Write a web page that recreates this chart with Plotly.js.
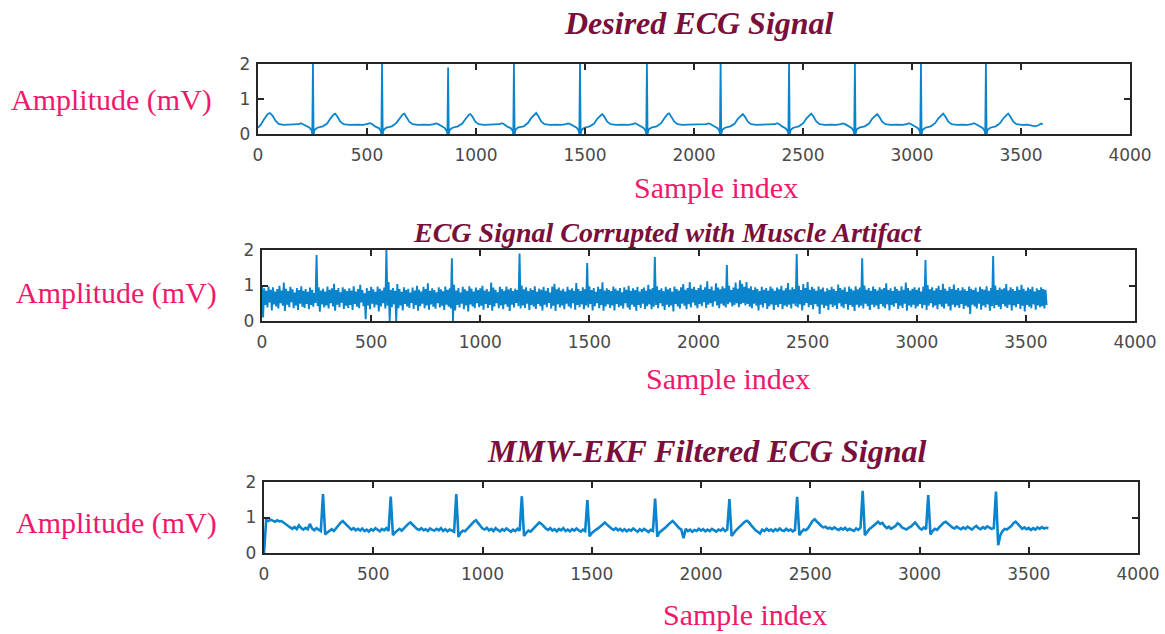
<!DOCTYPE html>
<html>
<head>
<meta charset="utf-8">
<script src="https://cdn.plot.ly/plotly-3.0.1.min.js"></script>
<style>html,body{margin:0;padding:0;background:#fff;}#chart{width:1165px;height:634px;}</style>
</head>
<body>
<div id="chart"></div>
<script>
// ---------- DATA ----------
const titles = ["Desired ECG Signal", "ECG Signal Corrupted with Muscle Artifact", "MMW-EKF Filtered ECG Signal"];
const xTitle = "Sample index";
const yTitle = "Amplitude (mV)";
const xTickVals = [0, 500, 1000, 1500, 2000, 2500, 3000, 3500, 4000];
const yTickVals = [0, 1, 2];

// Panel 1: desired (clean) ECG — sample index / amplitude (mV) key points
const cleanX = [0,12,28,45,55,67,80,95,115,142,167,187,197,207,222,237,246,249,252,255,260,272,297,317,332,347,354,364,377,392,417,442,
459,484,504,514,524,539,554,563,566,569,572,577,589,614,634,649,664,671,681,694,709,734,759,
787,807,817,827,842,857,866,869,872,875,880,892,917,937,952,967,974,984,997,1012,1037,1062,
1089,1109,1119,1129,1144,1159,1168,1171,1174,1177,1182,1194,1219,1239,1254,1269,1276,1286,1299,1314,1339,1364,
1392,1412,1422,1432,1447,1462,1471,1474,1477,1480,1485,1497,1522,1542,1557,1572,1579,1589,1602,1617,1642,1667,
1699,1719,1729,1739,1754,1769,1778,1781,1784,1787,1792,1804,1829,1849,1864,1879,1886,1896,1909,1924,1949,1974,
2012,2037,2057,2067,2077,2092,2107,2116,2119,2122,2125,2130,2142,2167,2187,2202,2217,2224,2234,2247,2262,2287,2312,
2326,2351,2371,2381,2391,2406,2421,2430,2433,2436,2439,2444,2456,2481,2501,2516,2531,2538,2548,2561,2576,2601,2626,
2653,2673,2683,2693,2708,2723,2732,2735,2738,2741,2746,2758,2783,2803,2818,2833,2840,2850,2863,2878,2903,2928,
2956,2976,2986,2996,3011,3026,3035,3038,3041,3044,3049,3061,3086,3106,3121,3136,3143,3153,3166,3181,3206,3231,
3254,3274,3284,3294,3309,3324,3333,3336,3339,3342,3347,3359,3384,3404,3419,3434,3441,3451,3464,3479,3504,3529,3550,3565,3580,3592,3600];
const cleanY = [0.18,0.26,0.42,0.57,0.60,0.52,0.38,0.29,0.26,0.27,0.26,0.28,0.31,0.28,0.22,0.18,0.10,0.00,2.00,0.00,0.12,0.18,0.22,0.30,0.44,0.56,0.58,0.50,0.36,0.28,0.26,0.27,
0.27,0.26,0.28,0.31,0.28,0.21,0.17,0.09,0.00,2.00,0.00,0.13,0.18,0.22,0.31,0.45,0.56,0.58,0.49,0.35,0.28,0.26,0.27,
0.26,0.28,0.30,0.28,0.22,0.17,0.08,0.00,1.90,0.00,0.12,0.18,0.22,0.30,0.43,0.55,0.57,0.49,0.35,0.28,0.26,0.27,
0.26,0.28,0.31,0.28,0.21,0.17,0.09,0.00,2.00,0.00,0.13,0.19,0.22,0.32,0.46,0.57,0.60,0.51,0.36,0.28,0.26,0.27,
0.26,0.28,0.30,0.28,0.22,0.18,0.10,0.00,2.00,0.00,0.12,0.18,0.22,0.30,0.44,0.55,0.57,0.49,0.35,0.28,0.26,0.27,
0.26,0.28,0.31,0.28,0.22,0.17,0.09,0.00,2.00,0.00,0.13,0.18,0.22,0.31,0.45,0.57,0.59,0.50,0.36,0.28,0.26,0.27,
0.27,0.26,0.28,0.30,0.28,0.22,0.17,0.09,0.00,2.00,0.00,0.12,0.18,0.22,0.30,0.44,0.55,0.57,0.49,0.35,0.28,0.26,0.27,
0.27,0.26,0.28,0.31,0.28,0.21,0.16,0.08,0.00,2.00,0.00,0.12,0.18,0.22,0.31,0.45,0.56,0.58,0.50,0.36,0.28,0.26,0.27,
0.26,0.28,0.30,0.28,0.22,0.17,0.09,0.00,2.00,0.00,0.13,0.18,0.22,0.30,0.44,0.55,0.57,0.49,0.35,0.28,0.26,0.27,
0.26,0.28,0.31,0.28,0.22,0.17,0.09,0.00,2.00,0.00,0.12,0.18,0.22,0.31,0.45,0.56,0.58,0.50,0.36,0.28,0.26,0.27,
0.26,0.28,0.31,0.28,0.22,0.17,0.09,0.00,2.00,0.00,0.12,0.18,0.22,0.31,0.45,0.56,0.58,0.50,0.36,0.28,0.26,0.27,0.24,0.22,0.25,0.30,0.27];

// Panel 2: corrupted ECG — alternating upper / lower excursions of the noisy trace
const noisyStep = 10;          // samples between successive upper readings
const noisyHi = [
1.00,.92,.85,.97,.88,.95,.83,.90,.99,.86,1.08,.91,.84,.96,.89,.80,.93,.87,.98,.85,
.90,.82,.94,.88,.79,1.86,.95,.86,.91,.83,.97,.88,.92,1.05,.87,.93,.81,.95,.89,.84,
.92,.86,.98,.83,.90,1.02,.87,.78,.93,.85,.96,.89,.82,.97,.91,.86,.94,2.00,1.10,.88,
.93,.85,1.04,.90,.82,.95,.87,.91,.80,.94,.86,.99,.88,.83,.96,.90,1.06,.85,.92,.87,
.81,.95,.89,.84,.97,.88,.92,1.77,1.02,.86,.93,.80,.96,.89,.85,.98,.91,.83,.94,.87,
.92,.99,.86,.90,.83,1.08,.94,.88,.81,.96,.90,.85,.97,.89,.93,.84,.91,.87,1.90,1.00,
.89,.95,.84,.92,.87,.98,.82,.91,.88,.96,.85,.93,.80,.97,1.05,.89,.94,.86,.91,.83,
.96,.88,.92,.85,1.07,.90,.84,.95,.89,1.63,.98,.87,.93,.82,.96,.90,1.09,.86,.92,.88,
.84,.97,.91,.86,.93,.81,.95,.88,.99,.85,.92,.87,.96,.83,.90,.94,.86,1.02,.89,.93,
1.80,.98,.87,.92,.84,.96,.89,.93,.82,.97,.90,.86,.95,1.04,.88,.93,1.10,.91,.96,.87,
.93,1.02,.88,.95,1.12,.90,.97,.86,1.06,.94,.89,.98,.92,1.58,.99,.87,.94,1.08,.91,1.15,
1.05,.96,1.10,.92,.98,.87,.95,.90,.84,.96,.88,.93,.86,.97,.91,.85,.94,.89,.99,.86,
.92,1.07,.88,.95,.90,1.89,.99,.87,1.04,.93,1.10,.88,.96,.91,.85,.97,.89,.94,.83,.92,
.87,.96,.90,.84,1.03,.93,.88,.95,.82,.97,.91,.86,.98,.89,.94,1.77,1.00,.88,.93,.85,
.97,.90,.86,.95,.89,.93,1.06,.87,.92,.84,.96,.90,.85,.98,.88,1.08,.93,.86,.91,.95,
.88,.94,.83,.97,1.72,1.01,.89,.95,.86,.92,.99,.87,1.05,.91,.85,.96,.90,1.03,.88,.93,
.86,.95,.89,.84,.97,.91,.87,.94,.82,.96,.90,.88,.98,.85,.93,1.83,1.00,.87,.94,.89,
.92,1.04,.86,.95,.90,.84,.97,.88,1.02,.91,.85,.94,.89,.96,.83,.92,.87,.95,.90,.88];
const noisyLo = [
.10,.45,.38,.52,.30,.47,.41,.35,.50,.43,.28,.46,.39,.53,.36,.44,.31,.49,.40,.37,
.48,.33,.45,.40,.51,.42,.26,.47,.38,.44,.35,.50,.41,.29,.46,.39,.52,.34,.43,.37,
.45,.31,.48,.40,.36,.52,.42,.05,.44,.33,.49,.38,.46,.27,.41,.50,.35,.43,.00,.39,
.47,.00,.36,.44,.30,.48,.41,.37,.51,.34,.45,.29,.42,.49,.36,.44,.32,.47,.40,.35,
.50,.38,.43,.31,.46,.40,.35,.00,.30,.45,.38,.49,.33,.44,.27,.47,.41,.36,.50,.39,
.43,.32,.48,.37,.45,.29,.41,.50,.36,.44,.33,.47,.40,.28,.46,.38,.51,.42,.35,.44,
.37,.49,.31,.45,.40,.34,.48,.42,.30,.46,.39,.51,.35,.43,.28,.47,.38,.44,.33,.49,
.41,.36,.50,.32,.45,.39,.47,.33,.44,.38,.48,.30,.42,.50,.36,.45,.29,.41,.47,.37,
.44,.30,.48,.39,.43,.35,.50,.38,.32,.46,.40,.29,.45,.37,.49,.34,.42,.47,.33,.40,
.45,.36,.50,.42,.31,.46,.39,.44,.27,.48,.41,.35,.49,.43,.33,.47,.38,.52,.44,.36,
.48,.42,.53,.37,.46,.50,.40,.55,.44,.36,.49,.43,.38,.47,.52,.41,.45,.50,.39,.47,
.51,.44,.48,.40,.36,.49,.43,.30,.46,.38,.50,.34,.42,.47,.31,.45,.39,.48,.33,.44,
.40,.46,.35,.49,.42,.38,.47,.30,.44,.51,.39,.45,.33,.48,.41,.20,.46,.37,.43,.31,
.47,.39,.44,.34,.50,.41,.36,.48,.32,.45,.40,.28,.46,.38,.43,.35,.49,.42,.31,.46,
.39,.44,.33,.48,.41,.36,.47,.30,.45,.40,.50,.34,.43,.37,.49,.29,.44,.39,.46,.35,
.42,.48,.36,.45,.31,.43,.50,.38,.44,.33,.47,.40,.35,.49,.42,.30,.46,.39,.44,.37,
.48,.34,.43,.39,.20,.46,.41,.35,.49,.32,.44,.38,.47,.29,.42,.36,.45,.40,.33,.48,
.41,.37,.46,.30,.44,.39,.48,.34,.43,.27,.45,.40,.36,.47,.32,.44,.39,.42,.35,.45];

// Panel 3: MMW-EKF filtered ECG — one reading every 10 samples
const filteredStep = 10;
const filtered = [
0.00,.93,.90,.94,.91,.88,.92,.89,.90,.85,.82,.76,.72,.68,.73,.67,.78,.70,.66,.71,
.67,.82,.69,.64,.70,.66,.62,1.66,.52,.58,.63,.67,.62,.70,.75,.85,.90,.84,.76,.70,
.66,.70,.64,.68,.63,.69,.62,.66,.60,.67,.63,.70,.65,.61,.68,.64,.70,.62,1.59,.50,
.58,.64,.68,.63,.70,.74,.82,.86,.80,.73,.68,.65,.70,.64,.67,.62,.69,.65,.63,.68,
.64,.70,.62,.67,.61,.66,.63,.60,1.66,.45,.57,.63,.61,.68,.72,.80,.88,.92,.85,.76,
.69,.66,.71,.64,.68,.62,.70,.65,.61,.67,.63,.69,.64,.60,.66,.62,.68,.63,1.60,.48,
.57,.63,.60,.67,.72,.79,.86,.82,.75,.69,.65,.70,.63,.67,.61,.68,.64,.70,.62,.66,
.61,.67,.63,.69,.64,.60,.66,.62,1.49,.47,.56,.62,.66,.70,.76,.82,.86,.80,.74,.69,
.65,.70,.64,.68,.62,.67,.61,.66,.63,.69,.64,.60,.67,.62,.68,.63,.59,.65,.62,1.53,
.46,.58,.63,.67,.73,.80,.86,.90,.84,.76,.70,.66,.42,.68,.62,.66,.60,.65,.62,.68,
.63,.67,.61,.66,.62,.68,.64,.60,.66,.63,.69,.62,.66,1.52,.48,.58,.64,.70,.76,.83,
.88,.91,.86,.78,.70,.64,.60,.55,.66,.62,.68,.63,.66,.61,.67,.63,.69,.64,.62,.68,
.63,.66,.61,.65,1.58,.50,.60,.66,.64,.70,.80,.90,.95,.88,.80,.76,.72,.74,.69,.71,
.67,.72,.68,.65,.70,.66,.71,.64,.68,.66,.62,.69,.65,.71,1.75,.50,.60,.67,.72,.78,
.84,.88,.82,.85,.76,.70,.74,.68,.72,.76,.84,.80,.72,.68,.66,.71,.74,.80,.86,.78,
.70,.66,.72,.67,1.63,.52,.62,.68,.65,.72,.78,.85,.88,.82,.76,.72,.69,.74,.70,.67,
.72,.68,.74,.70,.66,.72,.76,.70,.67,.73,.69,.75,.71,.68,.70,1.73,.22,.50,.62,.68,
.66,.70,.76,.84,.88,.82,.74,.68,.72,.67,.71,.65,.70,.66,.72,.68,.73,.69,.71,.70];

// ---------- BUILD TRACES ----------
const lineColor = '#0a84cc';
const noisyX = [], noisyY = [];
for (let i = 0; i < noisyHi.length; i++) {
  noisyX.push(i * noisyStep); noisyY.push(noisyHi[i]);
  noisyX.push(i * noisyStep + noisyStep / 2); noisyY.push(noisyLo[i]);
}
const filtX = filtered.map((_, i) => i * filteredStep);

const traces = [
  {x: cleanX, y: cleanY, type: 'scatter', mode: 'lines', line: {color: lineColor, width: 1.8}, xaxis: 'x', yaxis: 'y', hoverinfo: 'skip'},
  {x: noisyX, y: noisyY, type: 'scatter', mode: 'lines', line: {color: lineColor, width: 1.9}, xaxis: 'x2', yaxis: 'y2', hoverinfo: 'skip'},
  {x: filtX, y: filtered, type: 'scatter', mode: 'lines', line: {color: lineColor, width: 2.6}, xaxis: 'x3', yaxis: 'y3', hoverinfo: 'skip'}
];

// ---------- LAYOUT ----------
const W = 1165, H = 634;
const px = v => v / W, py = v => 1 - v / H;
const tickFont = {family: 'DejaVu Sans, Arial, sans-serif', size: 17, color: '#4a4a4a'};
function xAx(l, r, anchor) {
  return {domain: [px(l), px(r)], range: [0, 4000], tickvals: xTickVals, ticktext: xTickVals.map(String),
    ticks: 'inside', ticklen: 6, tickwidth: 2, tickcolor: '#262626', showline: true, linecolor: '#262626', linewidth: 2.2,
    mirror: 'allticks', showgrid: false, zeroline: false, tickfont: tickFont, ticklabelstandoff: 4, anchor: anchor, fixedrange: true};
}
function yAx(t, b, anchor) {
  return {domain: [py(b), py(t)], range: [0, 2], tickvals: yTickVals, ticktext: yTickVals.map(String),
    ticks: 'inside', ticklen: 6, tickwidth: 2, tickcolor: '#262626', showline: true, linecolor: '#262626', linewidth: 2.2,
    mirror: 'allticks', showgrid: false, zeroline: false, tickfont: tickFont, ticklabelstandoff: 2, anchor: anchor, fixedrange: true};
}
const titleColor = '#7a0f3c';
const labelColor = '#f0186a';
function ann(text, cx, cy, font) {
  return {text: text, x: px(cx), y: py(cy), xref: 'paper', yref: 'paper', xanchor: 'center', yanchor: 'middle', showarrow: false, font: font};
}
const titleFont = s => ({family: 'Liberation Serif, Times New Roman, serif', size: s, color: titleColor, weight: 'bold', style: 'italic'});
const labFont = {family: 'Liberation Serif, Times New Roman, serif', size: 30, color: labelColor};

const layout = {
  width: W, height: H, margin: {l: 0, r: 0, t: 0, b: 0}, paper_bgcolor: '#ffffff', plot_bgcolor: '#ffffff', showlegend: false,
  xaxis: xAx(258, 1130, 'y'), yaxis: yAx(64, 134, 'x'),
  xaxis2: xAx(262, 1135, 'y2'), yaxis2: yAx(250, 321, 'x2'),
  xaxis3: xAx(264, 1138, 'y3'), yaxis3: yAx(482, 553, 'x3'),
  annotations: [
    ann(titles[0], 699, 23, titleFont(32)),
    ann(titles[1], 668, 233, titleFont(28)),
    ann(titles[2], 706, 451, titleFont(32)),
    ann(xTitle, 716, 188, labFont),
    ann(xTitle, 728, 378, labFont),
    ann(xTitle, 745, 614, labFont),
    ann(yTitle, 111, 100, labFont),
    ann(yTitle, 116, 293, labFont),
    ann(yTitle, 116, 523, labFont)
  ]
};

Plotly.newPlot('chart', traces, layout, {displayModeBar: false, staticPlot: true});
</script>
</body>
</html>
